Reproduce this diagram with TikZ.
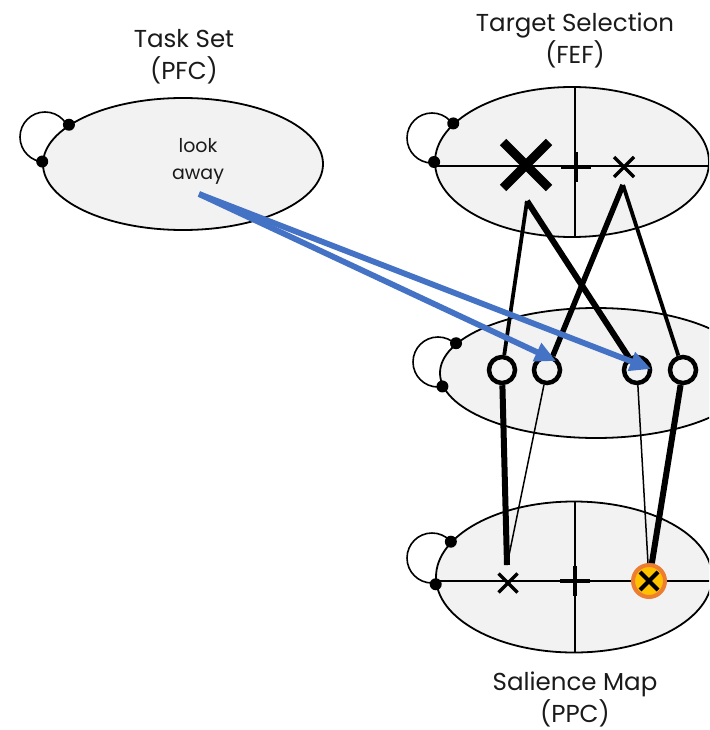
\documentclass[tikz,border=0pt]{standalone}
\usepackage{fontspec}
\setmainfont{Poppins}
\usetikzlibrary{arrows.meta,shapes.geometric}
\definecolor{areafill}{HTML}{F2F2F2}
\definecolor{pathblue}{HTML}{4472C4}
\definecolor{ringorange}{HTML}{ED7D31}
\definecolor{coreyellow}{HTML}{FFC000}
\definecolor{inkgray}{HTML}{1A1A1A}
\begin{document}
\begin{tikzpicture}[x=1pt,y=-1pt,
  area/.style={ellipse, draw=black, line width=1.8pt, fill=areafill, inner sep=0pt},
  dot/.style={circle, fill=black, inner sep=0pt, minimum size=12pt},
  selfloop/.style={draw=black, line width=1.6pt},
  axis/.style={draw=black, line width=1.2pt},
  unit/.style={circle, draw=black, line width=4.5pt, fill=areafill, inner sep=0pt, minimum size=26pt},
  goal/.style={circle, draw=ringorange, line width=4pt, fill=coreyellow, inner sep=0pt, minimum size=32pt},
  title/.style={font=\fontsize{24.5}{32}\selectfont, align=center, text=inkgray},
  cue/.style={font=\fontsize{19}{27}\selectfont, align=center, text=inkgray},
  link/.style={draw=black, line width=#1},
  topdown/.style={draw=pathblue, line width=5.8pt, -{Triangle[length=21pt,width=19pt]}}
]
\useasboundingbox (0,0) rectangle (709,730);
\fill[white] (0,0) rectangle (709,730);
\clip (0,0) rectangle (709,730);

% recurrent self-connections (drawn first, the areas cover their inner half)
\draw[selfloop] (45,137) circle (25);
\draw[selfloop] (432,138) circle (25);
\draw[selfloop] (438,362) circle (25);
\draw[selfloop] (432,558) circle (25);

% the four cortical areas
\node[area, minimum width=280pt, minimum height=132pt] (pfc) at (183,164) {};
\node[area, minimum width=274pt, minimum height=150pt] (fef) at (572,162) {};
\node[area, minimum width=312pt, minimum height=130pt] (mid) at (596,373) {};
\node[area, minimum width=276pt, minimum height=151pt] (ppc) at (574,577) {};

% attachment points of the self-connections
\node[dot] at (pfc.161) {};
\node[dot] at (pfc.179) {};
\node[dot] at (fef.162) {};
\node[dot] at (fef.180) {};
\node[dot] at (mid.168) {};
\node[dot] at (mid.185) {};
\node[dot] at (ppc.164) {};
\node[dot] at (ppc.183) {};

% spatial axes of the two retinotopic maps
\begin{scope}
  \clip (572,162) ellipse [x radius=137, y radius=75];
  \draw[axis] (420,166) -- (720,166);
  \draw[axis] (575,80) -- (575,250);
\end{scope}
\begin{scope}
  \clip (574,577) ellipse [x radius=138, y radius=75.5];
  \draw[axis] (420,581) -- (720,581);
  \draw[axis] (575,490) -- (575,660);
\end{scope}

% titles
\node[title] (pfctitle) at (184,57) {Task Set\\(PFC)};
\node[title] (feftitle) at (575,40) {Target Selection\\(FEF)};
\node[title] (ppctitle) at (575,699) {Salience Map\\(PPC)};
\node[cue] (rule) at (198,161) {look\\away};

% FEF map: strong target, fixation cross, weak target
\coordinate (bigx) at (526,165);
\draw[line width=9pt] (bigx) +(-23,-23) -- +(23,23) (bigx) +(-23,23) -- +(23,-23);
\draw[line width=4pt] (575.5,167) +(-15,0) -- +(15,0) (575.5,167) +(0,-15) -- +(0,15);
\coordinate (smallx) at (624,167);
\draw[line width=3.5pt] (smallx) +(-10,-10) -- +(10,10) (smallx) +(-10,10) -- +(10,-10);

% salience map: distractor, fixation cross, target
\coordinate (ppcx) at (508,583);
\draw[line width=3.5pt] (ppcx) +(-9.5,-9.5) -- +(9.5,9.5) (ppcx) +(-9.5,9.5) -- +(9.5,-9.5);
\draw[line width=4pt] (575,581) +(-15,0) -- +(15,0) (575,581) +(0,-15) -- +(0,15);
\node[goal] (tgt) at (649,581) {};
\draw[line width=4pt] (tgt) +(-9,-9) -- +(9,9) (tgt) +(-9,9) -- +(9,-9);

% intermediate units
\node[unit] (m1) at (502,370) {};
\node[unit] (m2) at (547,370) {};
\node[unit] (m3) at (637,370) {};
\node[unit] (m4) at (683,370) {};

% feed-forward / feedback wiring
\coordinate (bigxfoot) at (527,201);
\coordinate (smallxfoot) at (623,185);
\coordinate (ppcxtop) at (507,565);
\draw[link=3.8pt] (bigxfoot) -- (m1);
\draw[link=6pt] (bigxfoot) -- (m3);
\draw[link=5.5pt] (smallxfoot) -- (m2);
\draw[link=3.8pt] (smallxfoot) -- (m4);
\draw[link=6pt] (m1) -- (ppcxtop);
\draw[link=1.5pt] (m2) -- (ppcxtop);
\draw[link=1.5pt] (m3) -- (tgt);
\draw[link=6pt] (m4) -- (tgt);

% top-down rule signals
\coordinate (cuefoot) at (199,194);
\coordinate (tip1) at (556,361);
\coordinate (tip2) at (651,369);
\draw[topdown] (cuefoot) -- (tip1);
\draw[topdown] (cuefoot) -- (tip2);
\end{tikzpicture}
\end{document}
